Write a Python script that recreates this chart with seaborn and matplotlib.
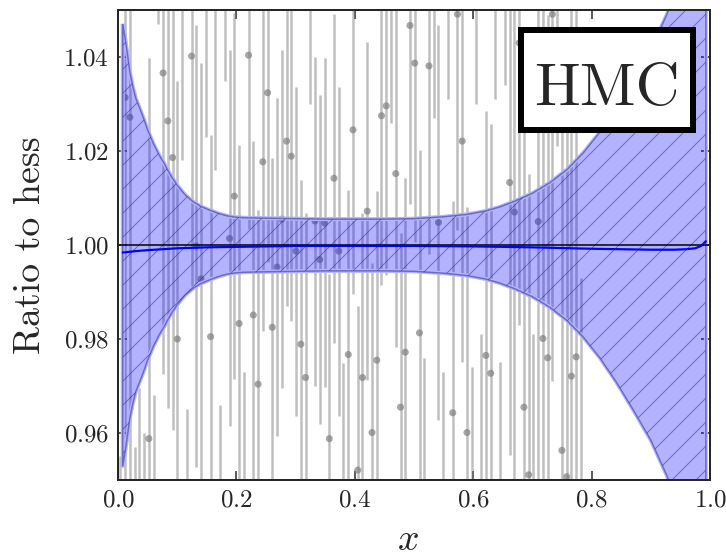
import numpy as np
import pandas as pd
import matplotlib
matplotlib.use("Agg")
import matplotlib.pyplot as plt
from matplotlib.patches import Rectangle
import seaborn as sns

# Sampled ratios with their uncertainties
x_data = [0.0040, 0.0120, 0.0200, 0.0281, 0.0361, 0.0441, 0.0521, 0.0601, 0.0682, 0.0762,
          0.0842, 0.0922, 0.1002, 0.1083, 0.1163, 0.1243, 0.1323, 0.1403, 0.1484, 0.1564,
          0.1644, 0.1724, 0.1804, 0.1885, 0.1965, 0.2045, 0.2125, 0.2205, 0.2286, 0.2366,
          0.2446, 0.2526, 0.2606, 0.2687, 0.2767, 0.2847, 0.2927, 0.3007, 0.3088, 0.3168,
          0.3248, 0.3328, 0.3408, 0.3489, 0.3569, 0.3649, 0.3729, 0.3809, 0.3890, 0.3970,
          0.4050, 0.4130, 0.4210, 0.4291, 0.4371, 0.4451, 0.4531, 0.4611, 0.4692, 0.4772,
          0.4852, 0.4932, 0.5012, 0.5093, 0.5173, 0.5253, 0.5333, 0.5413, 0.5494, 0.5574,
          0.5654, 0.5734, 0.5814, 0.5895, 0.5975, 0.6055, 0.6135, 0.6215, 0.6296, 0.6376,
          0.6456, 0.6536, 0.6616, 0.6697, 0.6777, 0.6857, 0.6937, 0.7017, 0.7098, 0.7178,
          0.7258, 0.7338, 0.7418, 0.7499, 0.7579, 0.7659, 0.7739, 0.7819]
y_data = [0.805, 1.0314, 1.0272, 0.862, 0.8795, 0.875, 0.9588, 0.893, 1.115, 1.0366,
          1.0264, 1.0186, 0.9800, 1.070, 0.915, 1.0402, 0.9998, 0.9928, 1.068, 0.9805,
          1.058, 0.925, 1.075, 1.0014, 1.0104, 0.9833, 0.935, 1.0404, 0.9851, 0.9704,
          1.0177, 1.0324, 0.9825, 0.9953, 1.0055, 1.0221, 1.0189, 0.9987, 0.9789, 0.9718,
          1.065, 1.0051, 0.9969, 1.0047, 0.9588, 1.0142, 0.9987, 0.940, 0.9767, 1.0245,
          0.9521, 0.9718, 1.0072, 0.9601, 0.9755, 1.0275, 1.0296, 1.062, 1.0152, 0.9655,
          0.9772, 1.0467, 1.0387, 0.9813, 0.937, 1.0381, 1.068, 1.0048, 0.930, 1.075,
          0.9643, 1.0491, 1.0221, 0.9601, 0.925, 1.080, 0.930, 0.9765, 0.9727, 1.085,
          0.920, 1.090, 1.0133, 1.0070, 1.0430, 0.9655, 0.9511, 0.915, 1.0050, 0.9801,
          0.9760, 1.0491, 1.100, 0.9563, 0.9507, 0.9721, 0.9762, 0.905]
y_err = [0.150, 0.120, 0.105, 0.095, 0.090, 0.085, 0.081, 0.075, 0.068, 0.064,
         0.061, 0.058, 0.055, 0.052, 0.050, 0.049, 0.047, 0.046, 0.045, 0.043,
         0.042, 0.041, 0.040, 0.040, 0.039, 0.038, 0.038, 0.037, 0.037, 0.037,
         0.036, 0.036, 0.036, 0.036, 0.036, 0.035, 0.035, 0.035, 0.035, 0.035,
         0.035, 0.035, 0.035, 0.035, 0.035, 0.035, 0.035, 0.035, 0.035, 0.035,
         0.035, 0.035, 0.036, 0.036, 0.036, 0.036, 0.036, 0.036, 0.037, 0.037,
         0.037, 0.038, 0.038, 0.039, 0.039, 0.040, 0.041, 0.042, 0.043, 0.044,
         0.045, 0.046, 0.047, 0.048, 0.049, 0.050, 0.051, 0.052, 0.053, 0.054,
         0.055, 0.056, 0.058, 0.059, 0.060, 0.062, 0.064, 0.066, 0.068, 0.070,
         0.073, 0.078, 0.079, 0.080, 0.082, 0.084, 0.086, 0.088]

# Posterior uncertainty band (half-width about the unit ratio)
band_x = [0.008, 0.012, 0.016, 0.020, 0.025, 0.030, 0.037, 0.043, 0.050, 0.060,
          0.070, 0.077, 0.088, 0.100, 0.113, 0.127, 0.140, 0.155, 0.170, 0.184,
          0.200, 0.212, 0.250, 0.300, 0.350, 0.400, 0.450, 0.500, 0.550, 0.589,
          0.620, 0.645, 0.670, 0.700, 0.730, 0.758, 0.786, 0.814, 0.842, 0.870,
          0.900, 0.927, 0.960, 0.993]
band_hw = [0.0470, 0.0440, 0.0405, 0.0368, 0.0337, 0.0312, 0.0290, 0.0270, 0.0245, 0.0215,
           0.0190, 0.0176, 0.0150, 0.0127, 0.0107, 0.0092, 0.0082, 0.0074, 0.0067, 0.0062,
           0.0059, 0.0058, 0.0057, 0.0056, 0.0055, 0.0055, 0.0055, 0.0056, 0.0060, 0.0065,
           0.0072, 0.0081, 0.0093, 0.0110, 0.0133, 0.0160, 0.0196, 0.0240, 0.0292, 0.0350,
           0.0415, 0.0490, 0.0600, 0.0760]

# Posterior mean ratio
mean_x = [0.008, 0.03, 0.05, 0.1, 0.15, 0.2, 0.3, 0.4, 0.5, 0.6, 0.7, 0.8, 0.85,
          0.9, 0.94, 0.96, 0.975, 0.985, 0.993]
mean_y = [0.9984, 0.9987, 0.9989, 0.9993, 0.9995, 0.9996, 0.9998, 0.9998, 0.9998,
          0.9997, 0.9995, 0.9992, 0.9991, 0.9990, 0.9990, 0.9991, 0.9993, 0.9998, 1.0008]

sns.set_style("ticks")
plt.rcParams.update({
    "font.family": ["cmr10", "DejaVu Serif"],
    "mathtext.fontset": "cm",
    "axes.formatter.use_mathtext": True,
    "hatch.linewidth": 1.0,
})

fig = plt.figure(figsize=(726 / 72, 556 / 72), dpi=72)
ax = fig.add_axes([118 / 726, 76 / 556, 592 / 726, 470 / 556])

pts = pd.DataFrame({"x": x_data, "y": y_data, "err": y_err})

# Error bars and sample points
ax.vlines(pts["x"], pts["y"] - pts["err"], pts["y"] + pts["err"],
          colors="gray", alpha=0.5, linewidth=2.5, zorder=1)
sns.scatterplot(data=pts, x="x", y="y", ax=ax, color="gray", alpha=0.7,
                s=50, edgecolor="none", zorder=2, legend=False)

bx = np.array(band_x)
bhw = np.array(band_hw)
lo, hi = 1.0 - bhw, 1.0 + bhw

# Band: translucent fill, soft rim, hatched overlay with darker outline
ax.fill_between(bx, lo, hi, facecolor="blue", alpha=0.3, linewidth=0, zorder=3)
ax.fill_between(bx, lo, hi, facecolor="none", edgecolor="#b3b3ff",
                linewidth=4, zorder=3.5)
ax.fill_between(bx, lo, hi, facecolor="none", edgecolor=(0.2, 0.2, 0.55, 0.55),
                hatch="/", linewidth=1.5, zorder=4)

ax.axhline(1.0, color="black", linewidth=1.5, zorder=5)
sns.lineplot(x=mean_x, y=mean_y, ax=ax, color="blue", linewidth=2.2,
             zorder=6, legend=False)

ax.set_xlim(0.0, 1.0)
ax.set_ylim(0.95, 1.05)
ax.set_xticks([0.0, 0.2, 0.4, 0.6, 0.8, 1.0])
ax.set_yticks([0.96, 0.98, 1.00, 1.02, 1.04])
ax.tick_params(direction="in", length=9, width=1.5, labelsize=25, pad=9,
               top=True, right=True)
for sp in ax.spines.values():
    sp.set_linewidth(2)
    sp.set_zorder(10)

ax.set_xlabel(r"$x$", fontsize=38)
ax.set_ylabel("Ratio to hess", fontsize=38)
ax.xaxis.set_label_coords(0.49, -0.093)
ax.yaxis.set_label_coords(-0.12, 0.5)

# Method label in a framed box
ax.add_patch(Rectangle((0.681, 0.744), 0.291, 0.214, transform=ax.transAxes,
                       facecolor="white", edgecolor="black", linewidth=6,
                       zorder=20))
ax.text(0.8255, 0.798, "HMC", transform=ax.transAxes, fontsize=61,
        ha="center", va="baseline", zorder=21)

fig.savefig("out.png", dpi=72)
